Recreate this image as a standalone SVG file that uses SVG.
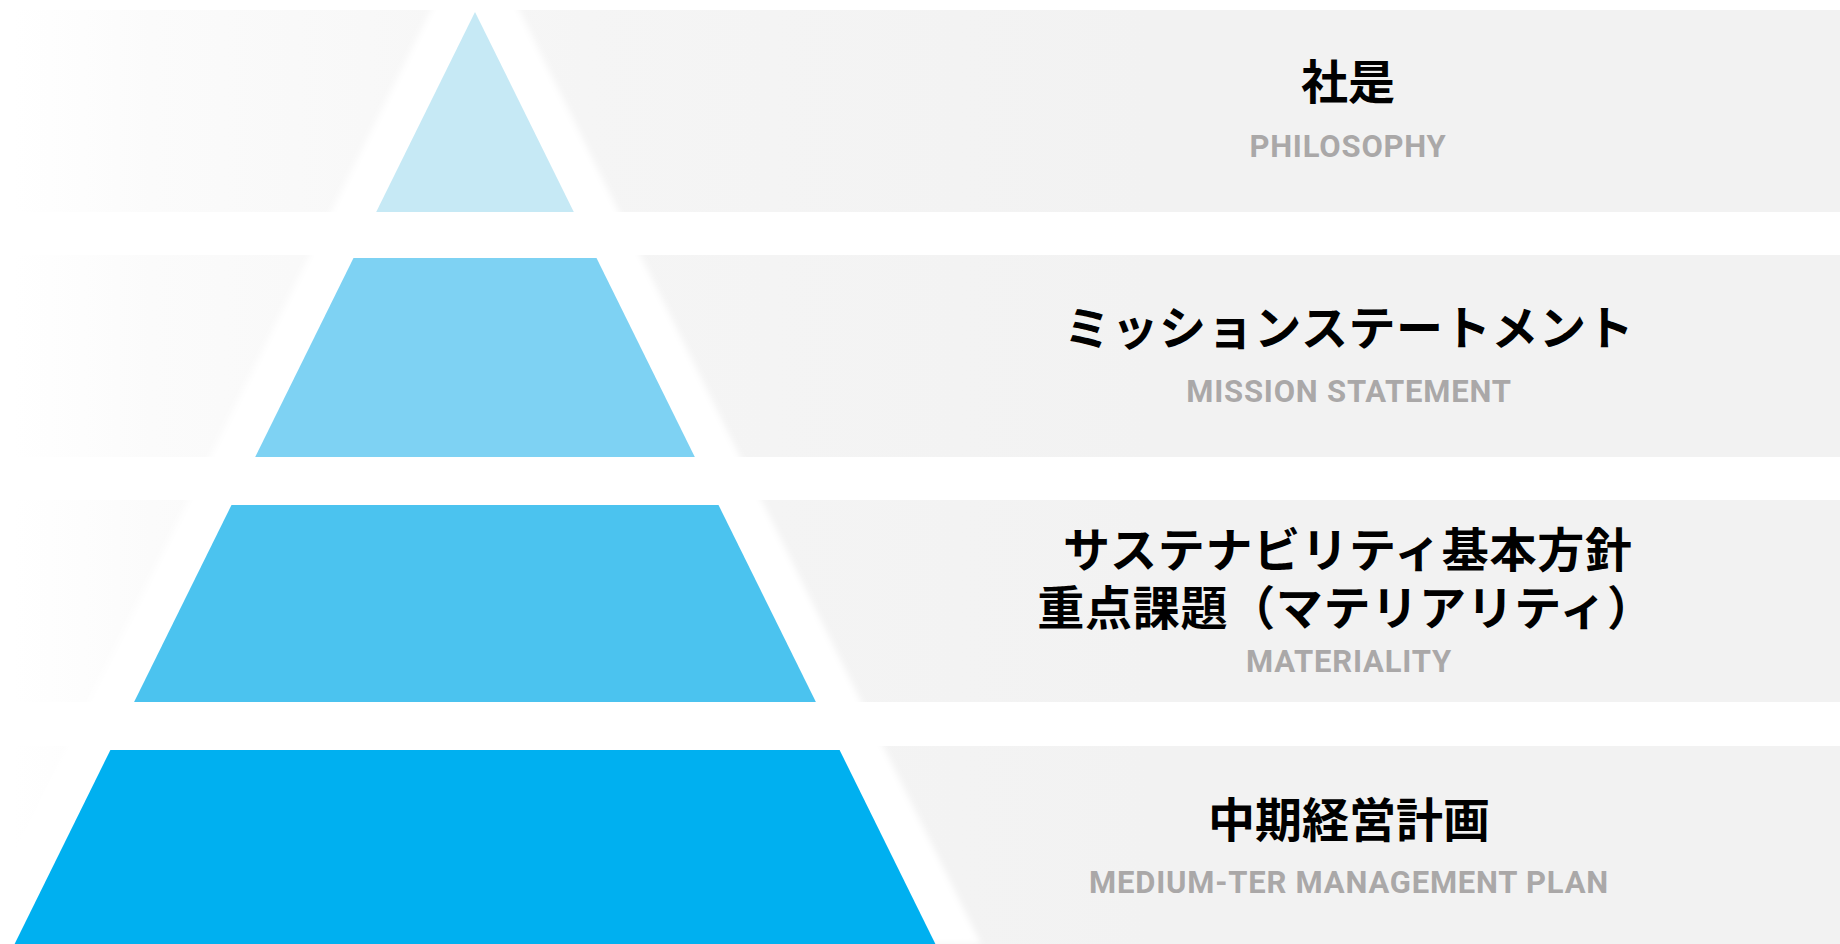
<svg xmlns="http://www.w3.org/2000/svg" width="1840" height="944" viewBox="0 0 1840 944">
  <defs>
    <linearGradient id="bandGrad" gradientUnits="userSpaceOnUse" x1="15" y1="0" x2="1150" y2="0">
      <stop offset="0" stop-color="#ffffff"/>
      <stop offset="0.12" stop-color="#fbfbfb"/>
      <stop offset="0.5" stop-color="#f5f5f5"/>
      <stop offset="1" stop-color="#f2f2f2"/>
    </linearGradient>
    <filter id="soft" x="-10%" y="-10%" width="120%" height="120%">
      <feGaussianBlur stdDeviation="3"/>
    </filter>
    <style>
      .band { fill: url(#bandGrad); }
      .jp { font-family: "Noto Sans CJK JP", "Noto Sans", sans-serif; font-weight: 700; font-size: 47px; fill: #000000; text-anchor: middle; }
      .en { font-family: Roboto, "Liberation Sans", sans-serif; font-weight: 700; font-size: 31px; fill: #aaa8a8; text-anchor: middle; letter-spacing: 0.8px; }
    </style>
  </defs>
  <rect x="0" y="0" width="1840" height="944" fill="#ffffff"/>
  <g id="bands">
    <rect class="band" x="15" y="10" width="1825" height="202"/>
    <rect class="band" x="15" y="255" width="1825" height="202"/>
    <rect class="band" x="15" y="500" width="1825" height="202"/>
    <rect class="band" x="15" y="746" width="1825" height="198"/>
  </g>
  <polygon id="pyramid-halo" points="436,0 514,0 981,944 -31,944" fill="#ffffff" filter="url(#soft)"/>
  <g id="tier-philosophy">
    <polygon points="475,12 573.8,212 376.2,212" fill="#c6e9f5"/>
    <text class="jp" x="1348" y="99">社是</text>
    <text class="en" x="1348" y="157">PHILOSOPHY</text>
  </g>
  <g id="tier-mission">
    <polygon points="353.5,258 596.5,258 694.8,457 255.2,457" fill="#7ed2f3"/>
    <text class="jp" x="1349" y="345" letter-spacing="0.6">ミッションステートメント</text>
    <text class="en" x="1349" y="402">MISSION STATEMENT</text>
  </g>
  <g id="tier-materiality">
    <polygon points="231.5,505 718.5,505 815.9,702 134.1,702" fill="#4bc3ef"/>
    <text class="jp"><tspan x="1348" y="567" letter-spacing="0.8">サステナビリティ基本方針</tspan><tspan x="1346" y="625" letter-spacing="0.7">重点課題（マテリアリティ）</tspan></text>
    <text class="en" x="1349" y="672">MATERIALITY</text>
  </g>
  <g id="tier-plan">
    <polygon points="110.4,750 839.6,750 935.4,944 14.6,944" fill="#00b0f0"/>
    <text class="jp" x="1349" y="837">中期経営計画</text>
    <text class="en" x="1349" y="893">MEDIUM-TER MANAGEMENT PLAN</text>
  </g>
  <g id="connectors"/>
</svg>
